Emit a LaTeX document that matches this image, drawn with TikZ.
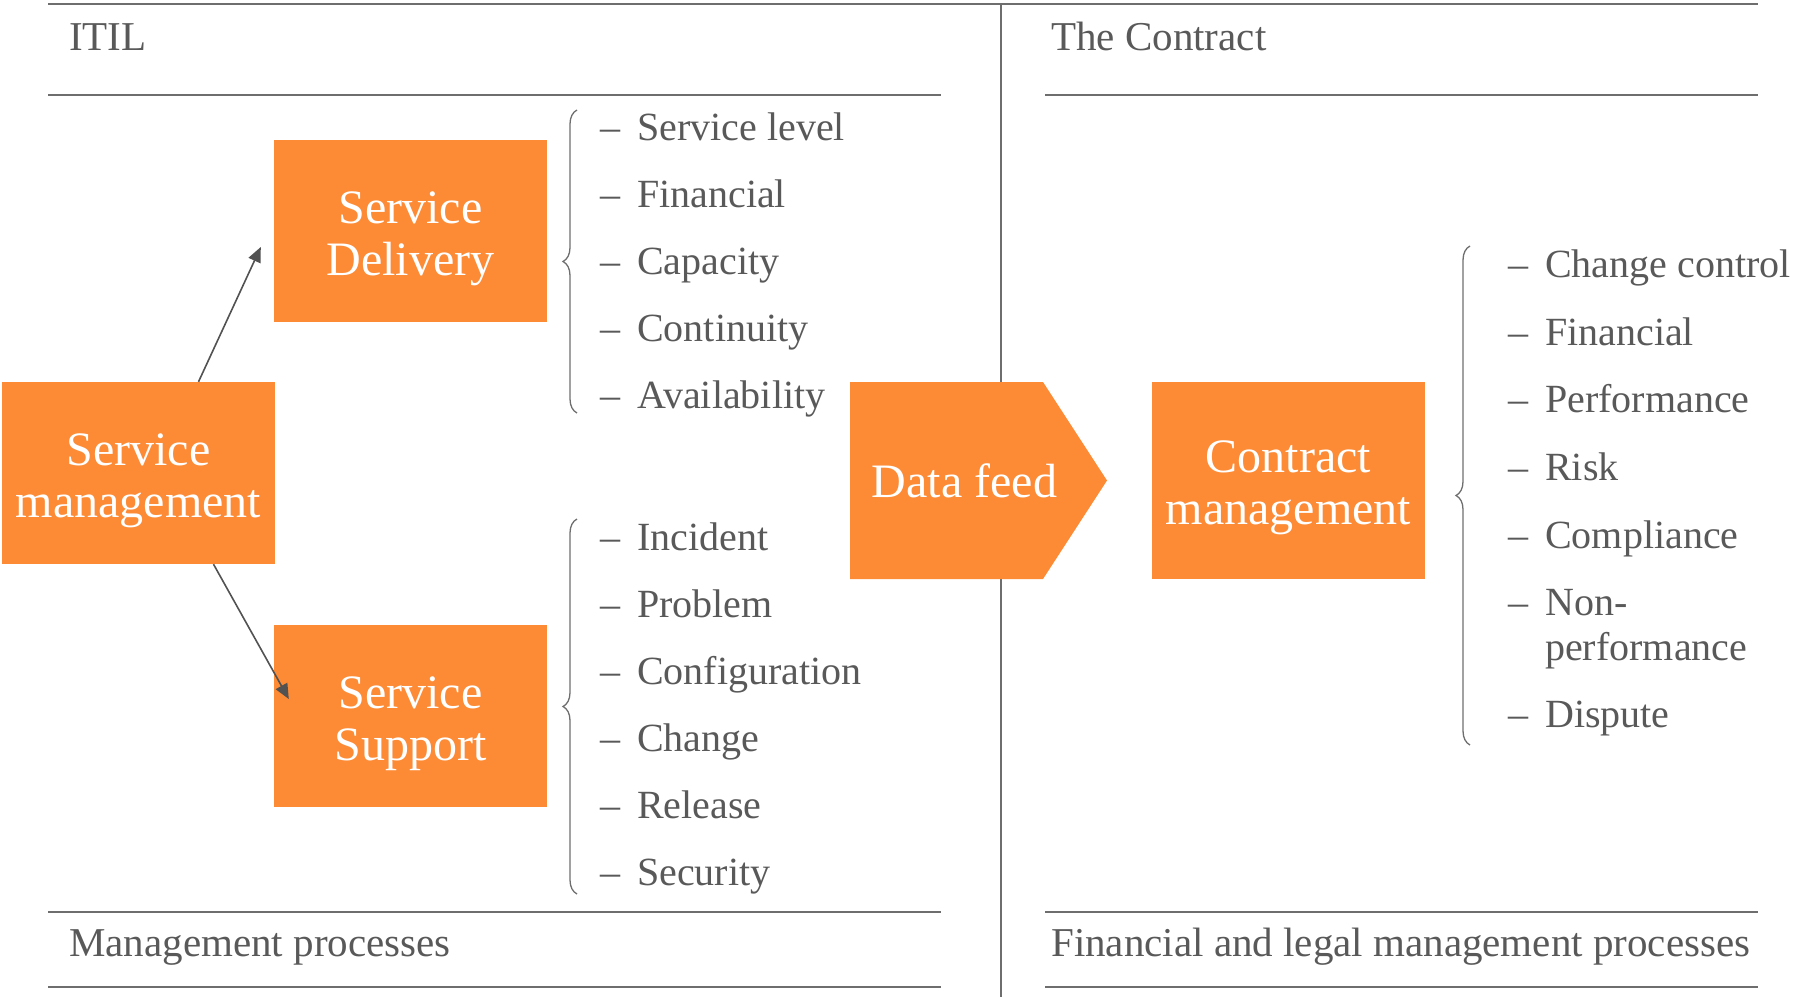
\documentclass[tikz,border=0pt]{standalone}
\usepackage{fontspec}
\setmainfont{Liberation Serif}
\usetikzlibrary{arrows.meta,decorations.pathreplacing}

\definecolor{boxorange}{RGB}{253,139,54}
\definecolor{textgray}{RGB}{89,89,89}
\definecolor{linegray}{RGB}{110,110,110}
\newcommand{\boxfont}{\fontsize{48}{52}\selectfont}
\newcommand{\listfont}{\fontsize{40}{45}\selectfont}
\newcommand{\headfont}{\fontsize{41}{46}\selectfont}
\newcommand{\itemdash}{\makebox[37pt][l]{–}}
% taller first line pushes the two-line box labels down a little
\newcommand{\boxstrut}{\rule{0pt}{47pt}}

\begin{document}
\begin{tikzpicture}[x=1pt, y=-1pt,
box/.style = {fill=boxorange, text=white, font=\boxfont, align=center,
  inner sep=0pt, minimum width=273pt, minimum height=182pt},
rule/.style = {draw=linegray, line width=2pt},
head/.style = {anchor=base west, text=textgray, font=\headfont, inner sep=0pt},
item/.style = {anchor=base west, text=textgray, font=\listfont, inner sep=0pt},
arr/.style = {draw=black!68, line width=1.6pt, -{Triangle[length=15pt,width=13pt]}},
curly/.style = {draw=linegray, line width=1.3pt, decorate,
  decoration={brace, amplitude=14pt}}]

\useasboundingbox (0,0) rectangle (1798,997);

% frame: top rule, divider, header and footer rules
\draw[rule] (48,4) -- (1758,4);
\draw[linegray, line width=1.5pt] (1001,4) -- (1001,997);
\draw[rule] (48,95) -- (941,95);
\draw[rule] (1045,95) -- (1758,95);
\draw[rule] (48,912) -- (941,912);
\draw[rule] (1045,912) -- (1758,912);
\draw[rule] (48,987) -- (941,987);
\draw[rule] (1045,987) -- (1758,987);

\node[head] (itil) at (69,50) {ITIL};
\node[head] (contract) at (1051,50) {The Contract};
\node[head] (mgmt) at (69,956) {Management processes};
\node[head] (legal) at (1051,956) {Financial and legal management processes};

% process boxes
\node[box] (sm) at (138.5,473) {\boxstrut Service\\management};
\node[box] (sd) at (410.5,231) {\boxstrut Service\\Delivery};
\node[box] (ss) at (410.5,716) {\boxstrut Service\\Support};
\node[box, minimum height=197pt] (cm) at (1288.5,480.5) {\boxstrut Contract\\management};

% data feed chevron
\fill[boxorange] (850,382) -- (1043,382) -- (1107,480.5) -- (1043,579) -- (850,579) -- cycle;
\node[text=white, font=\boxfont, inner sep=0pt] (feed) at (964.5,480.5) {Data feed};

\draw[arr] ([xshift=60pt]sm.north) -- ([xshift=-13pt,yshift=-16pt]sd.west);
\draw[arr] ([xshift=75pt]sm.south) -- ([xshift=15pt,yshift=17pt]ss.west);

% sub-process lists
\foreach \t [count=\i from 0] in {Service level, Financial, Capacity, Continuity, Availability}
  \node[item] (del\i) at (600,{140+67*\i}) {\itemdash\t};
\foreach \t [count=\i from 0] in {Incident, Problem, Configuration, Change, Release, Security}
  \node[item] (sup\i) at (600,{550+67*\i}) {\itemdash\t};
\foreach \t/\y in {Change control/277, Financial/345, Performance/412, Risk/480,
  Compliance/548, Non-/615, Dispute/727}
  \node[item] (con\y) at (1508,\y) {\itemdash\t};
\node[item] (con660) at (1545,660) {performance};

\draw[curly] (577,413) -- (577,110);
\draw[curly] (577,894) -- (577,519);
\draw[curly] (1470,745) -- (1470,246);

\end{tikzpicture}
\end{document}
